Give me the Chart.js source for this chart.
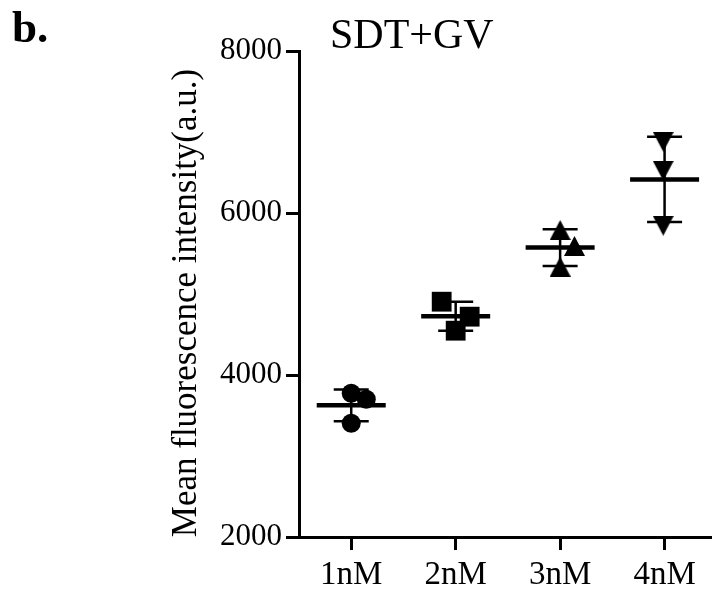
<!DOCTYPE html>
<html>
<head>
<meta charset="utf-8">
<script src="https://cdn.jsdelivr.net/npm/chart.js@4.4.1/dist/chart.umd.min.js"></script>
<style>
    html, body { margin: 0; padding: 0; background: #fff; }
</style>
</head>
<body>
<canvas id="scatterChart" width="712" height="590"></canvas>
<script>
// Categories and tick labels
const groups = ["1nM", "2nM", "3nM", "4nM"];
const yTicks = [2000, 4000, 6000, 8000];

// Replicates (a.u.)
const values1nM = [3774, 3700, 3404];
const values2nM = [4905, 4720, 4547];
const values3nM = [5790, 5593, 5337];
const values4nM = [6880, 6522, 5843];

// x value of each dot (category units, dots are spread a little inside the column)
const xPos1nM = [1, 1.144, 1];
const xPos2nM = [1.866, 2.134, 2];
const xPos3nM = [3, 3.137, 3];
const xPos4nM = [3.987, 3.987, 3.987];

const allValues = [values1nM, values2nM, values3nM, values4nM];
const allXPos = [xPos1nM, xPos2nM, xPos3nM, xPos4nM];

const serif = "'Liberation Serif', 'Times New Roman', serif";

// Triangle markers, centred on their box like the original software does
function triangleImage(down) {
    const c = document.createElement("canvas");
    c.width = 21;
    c.height = 20;
    const g = c.getContext("2d");
    g.fillStyle = "#000";
    g.beginPath();
    if (down) {
        g.moveTo(0, 0); g.lineTo(21, 0); g.lineTo(10.5, 20);
    } else {
        g.moveTo(10.5, 0); g.lineTo(21, 20); g.lineTo(0, 20);
    }
    g.closePath();
    g.fill();
    return c;
}

const markers = [
    { style: "circle", radius: 9.5 },
    { style: "rect", radius: 14 },
    { style: triangleImage(false), radius: 10 },
    { style: triangleImage(true), radius: 10 }
];

const datasets = allValues.map(function (vals, i) {
    return {
        label: groups[i],
        data: vals.map(function (v, j) { return { x: allXPos[i][j], y: v }; }),
        pointStyle: markers[i].style,
        pointRadius: markers[i].radius,
        backgroundColor: "#000",
        borderColor: "#000",
        borderWidth: 0
    };
});

// Mean line with SD error bars for each group
const meanSdPlugin = {
    id: "meanSd",
    afterDatasetsDraw(chart) {
        const ctx = chart.ctx;
        const xs = chart.scales.x;
        const ys = chart.scales.y;
        ctx.save();
        ctx.strokeStyle = "#000";
        allValues.forEach(function (vals, i) {
            const n = vals.length;
            const mean = vals.reduce((a, b) => a + b, 0) / n;
            const sd = Math.sqrt(vals.reduce((a, b) => a + (b - mean) * (b - mean), 0) / (n - 1));
            const px = xs.getPixelForValue(i + 1);
            const yMean = ys.getPixelForValue(mean);
            const yTop = ys.getPixelForValue(mean + sd);
            const yBot = ys.getPixelForValue(mean - sd);

            ctx.lineWidth = 2.5;
            ctx.beginPath();
            ctx.moveTo(px, yTop); ctx.lineTo(px, yBot);
            ctx.moveTo(px - 17.5, yTop); ctx.lineTo(px + 17.5, yTop);
            ctx.moveTo(px - 17.5, yBot); ctx.lineTo(px + 17.5, yBot);
            ctx.stroke();

            ctx.lineWidth = 4.5;
            ctx.beginPath();
            ctx.moveTo(px - 34.5, yMean); ctx.lineTo(px + 34.5, yMean);
            ctx.stroke();
        });
        ctx.restore();
    }
};

// Panel letter, chart title and y axis title
const textPlugin = {
    id: "panelText",
    afterDraw(chart) {
        const ctx = chart.ctx;
        ctx.save();
        ctx.fillStyle = "#000";
        ctx.textBaseline = "alphabetic";
        ctx.textAlign = "left";
        ctx.font = "bold 45px " + serif;
        ctx.fillText("b.", 12, 42);
        ctx.font = "42px " + serif;
        ctx.fillText("SDT+GV", 330, 48);

        ctx.translate(196, 303);
        ctx.rotate(-Math.PI / 2);
        ctx.textAlign = "center";
        ctx.font = "35px " + serif;
        ctx.fillText("Mean fluorescence intensity(a.u.)", 0, 0);
        ctx.restore();
    }
};

new Chart(document.getElementById("scatterChart").getContext("2d"), {
    type: "scatter",
    data: { datasets: datasets },
    options: {
        responsive: false,
        animation: false,
        layout: { autoPadding: false, padding: { top: 51, right: 0, bottom: 0, left: 0 } },
        plugins: {
            legend: { display: false },
            tooltip: { enabled: false }
        },
        scales: {
            x: {
                type: "linear",
                min: 0.5,
                max: 4.454,
                afterBuildTicks: function (s) {
                    s.ticks = groups.map(function (g, i) { return { value: i + 1 }; });
                },
                afterFit: function (s) { s.height = 53; },
                border: { color: "#000", width: 3 },
                grid: { drawOnChartArea: false, tickLength: 13, tickWidth: 3, tickColor: "#000" },
                ticks: {
                    color: "#000",
                    maxRotation: 0,
                    autoSkip: false,
                    padding: 6,
                    font: { family: serif, size: 33 },
                    callback: function (v) { return groups[Math.round(v) - 1]; }
                }
            },
            y: {
                min: 2000,
                max: 8000,
                afterBuildTicks: function (s) {
                    s.ticks = yTicks.map(function (v) { return { value: v }; });
                },
                afterFit: function (s) { s.width = 299; },
                border: { color: "#000", width: 3 },
                grid: { drawOnChartArea: false, tickLength: 13, tickWidth: 3, tickColor: "#000" },
                ticks: {
                    color: "#000",
                    padding: 4,
                    font: { family: serif, size: 31 },
                    callback: function (v) { return String(v); }
                }
            }
        }
    },
    plugins: [meanSdPlugin, textPlugin]
});
</script>
</body>
</html>
